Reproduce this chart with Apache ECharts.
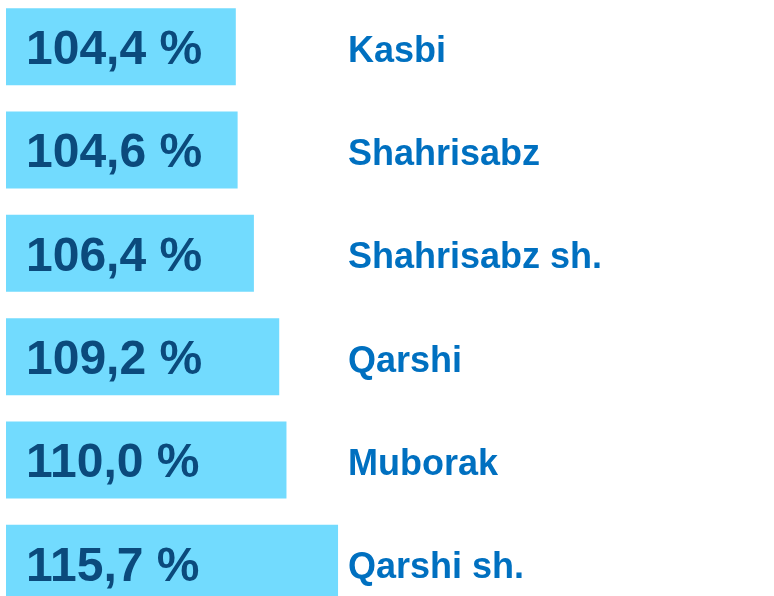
<!DOCTYPE html>
<html>
<head>
<meta charset="utf-8">
<script src="https://cdn.jsdelivr.net/npm/echarts@6/dist/echarts.min.js"></script>
<style>
  html, body { margin: 0; padding: 0; background: #fff; }
  #chart { width: 774px; height: 596px; }
</style>
</head>
<body>
<div id="chart"></div>
<script>
// tumanlar (yuqoridan pastga)
var districts = ['Kasbi', 'Shahrisabz', 'Shahrisabz sh.', 'Qarshi', 'Muborak', 'Qarshi sh.'];
// o'sish sur'ati, %
var growth = [104.4, 104.6, 106.4, 109.2, 110.0, 115.7];

var chart = echarts.init(document.getElementById('chart'));

var option = {
  animation: false,
  grid: {
    left: 6,
    top: -5,
    width: 760,
    height: 620,
    outerBoundsMode: 'none',
    containLabel: false
  },
  xAxis: {
    type: 'value',
    min: 79,
    max: 163,
    show: false
  },
  yAxis: {
    type: 'category',
    inverse: true,
    data: districts,
    axisLine: { show: false },
    axisTick: { show: false },
    axisLabel: {
      inside: true,
      margin: 342,
      verticalAlign: 'top',
      lineHeight: 10,
      color: '#0070c0',
      fontFamily: 'Liberation Sans, Arial, sans-serif',
      fontWeight: 'bold',
      fontSize: 36
    }
  },
  series: [{
    type: 'bar',
    data: growth,
    barWidth: 77,
    itemStyle: { color: '#72dbfe' },
    label: {
      show: true,
      position: 'insideLeft',
      distance: 20,
      offset: [0, 4],
      color: '#0b4a7c',
      fontFamily: 'Liberation Sans, Arial, sans-serif',
      fontWeight: 'bold',
      fontSize: 48,
      formatter: function (p) {
        return p.value.toFixed(1).replace('.', ',') + ' %';
      }
    }
  }]
};

chart.setOption(option);
</script>
</body>
</html>
